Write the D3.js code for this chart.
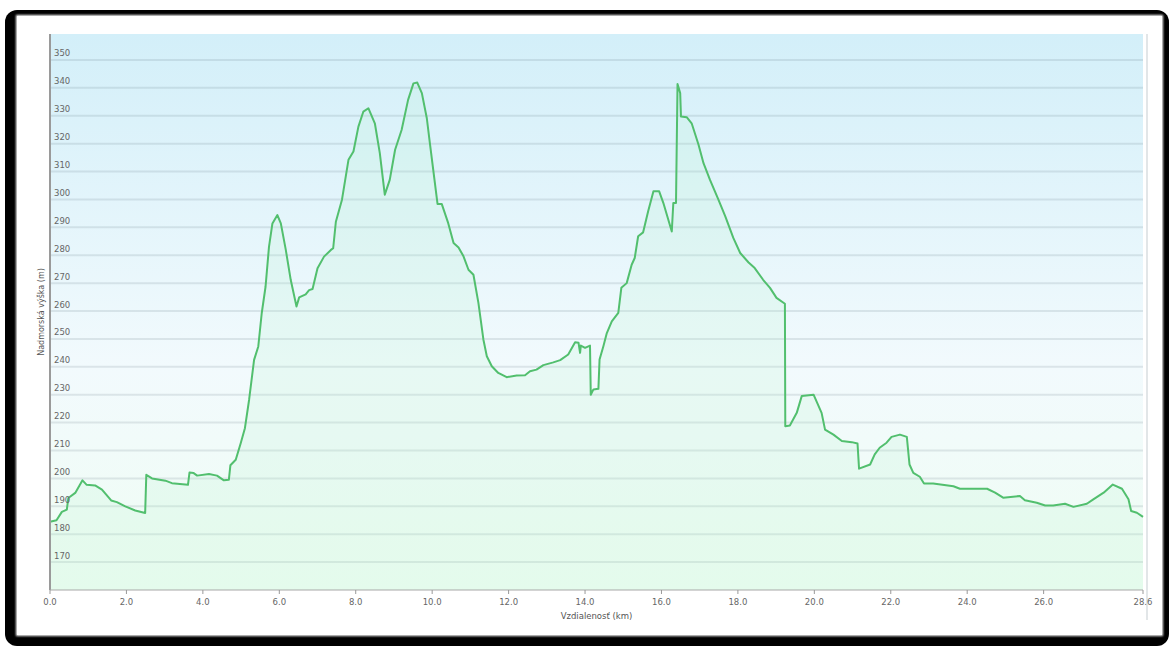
<!DOCTYPE html>
<html><head><meta charset="utf-8">
<script src="https://cdn.jsdelivr.net/npm/d3@7"></script>
<style>html,body{margin:0;padding:0;background:#fff;}svg{display:block;}</style>
</head><body>
<svg id="c" width="1170" height="646"></svg>
<script>
const distanceKm = [0.00,0.17,0.31,0.44,0.48,0.66,0.85,0.96,1.18,1.36,1.60,1.75,1.97,2.23,2.49,2.52,2.67,3.02,3.19,3.61,3.65,3.76,3.85,4.16,4.37,4.55,4.68,4.72,4.86,4.99,5.10,5.21,5.34,5.45,5.54,5.64,5.73,5.82,5.95,6.04,6.17,6.30,6.45,6.52,6.69,6.78,6.87,7.00,7.17,7.35,7.41,7.48,7.64,7.81,7.94,8.07,8.20,8.33,8.50,8.63,8.76,8.89,9.03,9.20,9.37,9.51,9.61,9.73,9.86,9.94,10.14,10.25,10.42,10.56,10.69,10.82,10.95,11.08,11.21,11.34,11.43,11.56,11.73,11.95,12.21,12.43,12.56,12.73,12.91,13.17,13.35,13.56,13.74,13.83,13.87,13.89,14.00,14.13,14.15,14.22,14.35,14.38,14.48,14.57,14.70,14.87,14.95,15.09,15.22,15.30,15.39,15.52,15.65,15.79,15.94,16.05,16.27,16.31,16.38,16.42,16.49,16.51,16.66,16.79,16.97,17.10,17.27,17.49,17.67,17.88,18.06,18.28,18.44,18.66,18.84,19.01,19.23,19.24,19.36,19.54,19.67,19.98,20.19,20.28,20.50,20.72,20.98,21.13,21.17,21.46,21.58,21.71,21.89,22.02,22.24,22.42,22.49,22.59,22.76,22.87,23.11,23.64,23.81,24.52,24.73,24.94,25.38,25.51,25.82,26.04,26.25,26.56,26.78,27.13,27.30,27.57,27.81,28.05,28.22,28.29,28.44,28.60];
const elevationM = [184.5,185,188,188.8,193,194.8,199.3,197.7,197.5,196,192.1,191.5,190,188.5,187.6,201.3,200,199.2,198.3,197.7,202.1,201.9,201,201.6,201,199.3,199.5,204.7,206.7,212.6,218,228.2,242.5,247.3,259.2,268.7,283,291.4,294.4,291.4,281.9,271.1,261.6,264.9,266,267.5,267.9,275.3,279.5,281.9,282.5,292,299.9,314.2,317.2,326.1,331.5,332.7,327.3,316.6,301.7,307,317.8,324.9,335.7,341.6,341.9,338.1,329.1,320.2,298.4,298.4,291.5,284.4,282.8,279.6,274.8,273,262.9,249.8,243.8,240.2,237.8,236.3,236.9,237,238.4,239,240.6,241.6,242.4,244.4,248.8,248.6,245,247.6,246.8,247.6,230,231.9,232.1,242.6,247.4,252.1,256.3,259.3,268.3,270,276.6,279,286.8,288.2,295.7,302.9,302.9,298.7,288.5,298.7,298.7,341.4,338.1,329.7,329.5,327.3,319.6,313,307,299.9,293.9,286.2,280.8,277.4,275.4,271.2,268.3,264.7,262.6,218.7,219,223.5,229.5,230,223.5,217.5,215.7,213.4,213,212.5,203.5,205,208.6,211,212.8,214.9,215.7,214.9,205,202,200.6,198.2,198.2,197.2,196.3,196.3,194.9,193.1,193.7,192.2,191.3,190.3,190.3,190.9,189.8,190.9,192.5,194.9,197.8,196.3,192.5,188.3,187.7,186.2];
const xTickValues = [0,2,4,6,8,10,12,14,16,18,20,22,24,26,28.6];
const xTickLabels = ["0.0","2.0","4.0","6.0","8.0","10.0","12.0","14.0","16.0","18.0","20.0","22.0","24.0","26.0","28.6"];
const yTickValues = [170,180,190,200,210,220,230,240,250,260,270,280,290,300,310,320,330,340,350];
const xTitle = "Vzdialenosť (km)";
const yTitle = "Nadmorská výška (m)";

const svg = d3.select("#c");
const L = 50, R = 1143, T = 34, B = 590;
const x = d3.scaleLinear().domain([0, 28.6]).range([L, R]);
const y = d3.scaleLinear().domain([160, 359.3]).range([B, T]);
const data = distanceKm.map((d, i) => ({d, e: elevationM[i]}));

const defs = svg.append("defs");
const bg = defs.append("linearGradient").attr("id","bg").attr("x1",0).attr("y1",0).attr("x2",0).attr("y2",1);
bg.append("stop").attr("offset","0%").attr("stop-color","#d3eff9");
bg.append("stop").attr("offset","60%").attr("stop-color","#f2fafd");
bg.append("stop").attr("offset","100%").attr("stop-color","#effdf3");
const sh = defs.append("filter").attr("id","blur").attr("x","-5%").attr("y","-5%").attr("width","110%").attr("height","110%");
sh.append("feGaussianBlur").attr("stdDeviation",1);

// frame
svg.append("rect").attr("x",5).attr("y",10).attr("width",1164).attr("height",636).attr("rx",12).attr("fill","#000");
svg.append("rect").attr("x",16).attr("y",15).attr("width",1147).attr("height",621).attr("fill","#fff").attr("filter","url(#blur)");
svg.append("rect").attr("x",17).attr("y",16).attr("width",1145).attr("height",619).attr("fill","#fff");

// plot background
svg.append("rect").attr("x",L).attr("y",T).attr("width",R-L).attr("height",B-T).attr("fill","url(#bg)");
svg.append("line").attr("x1",1147).attr("x2",1147).attr("y1",T).attr("y2",620).attr("stroke","#e2e6e8").attr("stroke-width",2);

// gridlines
svg.append("g").selectAll("line").data(yTickValues).join("line")
  .attr("x1",L).attr("x2",R).attr("y1",d=>y(d)).attr("y2",d=>y(d))
  .attr("stroke","rgba(90,110,120,0.15)").attr("stroke-width",2);

// area + line
svg.append("path").datum(data)
  .attr("d", d3.area().x(p=>x(p.d)).y0(B).y1(p=>y(p.e)))
  .attr("fill","rgba(175,242,200,0.17)");
svg.append("path").datum(data)
  .attr("d", d3.line().x(p=>x(p.d)).y(p=>y(p.e)))
  .attr("fill","none").attr("stroke","#52bf6e").attr("stroke-width",2).attr("stroke-linejoin","round");

// y labels inside plot
svg.append("g").selectAll("text").data(yTickValues).join("text")
  .attr("x",54).attr("y",d=>y(d)-3.5)
  .attr("font-family","DejaVu Sans, Verdana, sans-serif").attr("font-size","8.5px").attr("fill","#666")
  .text(d=>d);

// axes
svg.append("line").attr("x1",L).attr("x2",L).attr("y1",T).attr("y2",B).attr("stroke","#9a9a9a").attr("stroke-width",2);
svg.append("line").attr("x1",L).attr("x2",R).attr("y1",B).attr("y2",B).attr("stroke","#a8a8a8").attr("stroke-width",1);
const xa = svg.append("g");
xa.selectAll("line").data(xTickValues).join("line")
  .attr("x1",d=>x(d)).attr("x2",d=>x(d)).attr("y1",B).attr("y2",B+4).attr("stroke","#999").attr("stroke-width",1);
xa.selectAll("text").data(xTickValues).join("text")
  .attr("x",d=>x(d)).attr("y",B+15).attr("text-anchor","middle")
  .attr("font-family","DejaVu Sans, Verdana, sans-serif").attr("font-size","8.5px").attr("fill","#666")
  .text((d,i)=>xTickLabels[i]);

svg.append("text").attr("x",(L+R)/2).attr("y",619).attr("text-anchor","middle")
  .attr("font-family","DejaVu Sans, Verdana, sans-serif").attr("font-size","8.5px").attr("fill","#555").text(xTitle);
svg.append("text").attr("transform","translate(44,312) rotate(-90)").attr("text-anchor","middle")
  .attr("font-family","DejaVu Sans, Verdana, sans-serif").attr("font-size","8px").attr("fill","#555").text(yTitle);
</script>
</body></html>
